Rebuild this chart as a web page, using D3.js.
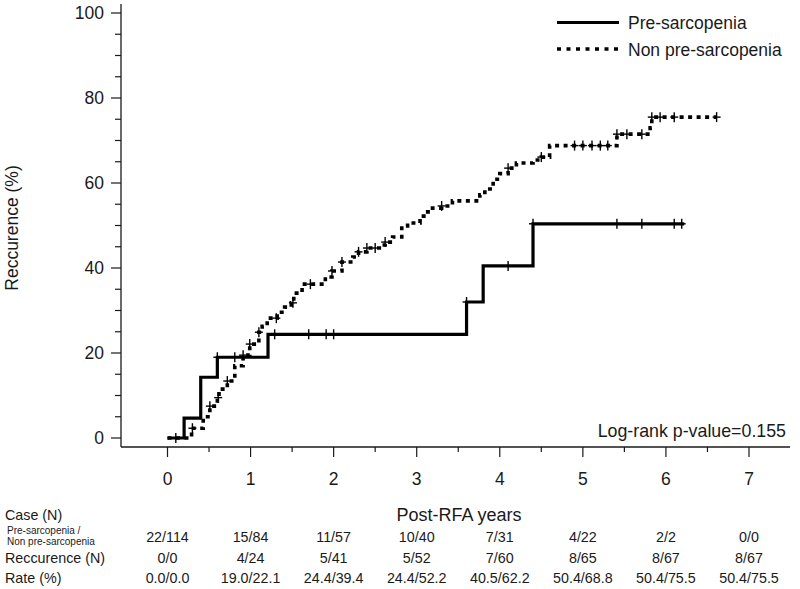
<!DOCTYPE html>
<html><head><meta charset="utf-8">
<script src="https://cdn.jsdelivr.net/npm/d3@7/dist/d3.min.js"></script>
<style>body{margin:0;background:#fff}svg{display:block;font-family:"Liberation Sans",Arial,sans-serif}</style>
</head><body><svg id="c" width="800" height="589"></svg>
<script>
// ---- data ----
const preTimes  = [0, 0.2, 0.4, 0.6, 1.21, 3.6, 3.8, 4.4];
const preValues = [0, 4.7, 14.3, 19.0, 24.4, 32.0, 40.5, 50.4];
const preEnd = 6.22;
const preCensor = [0.1, 0.6, 0.81, 1.29, 1.7, 1.91, 2.0, 3.6, 4.1, 4.4, 5.41, 5.71, 6.1, 6.19];

const nonTimes  = [0, 0.29, 0.43, 0.51, 0.60, 0.62, 0.72, 0.81, 0.91, 0.99, 1.10, 1.14, 1.20, 1.32, 1.41, 1.49, 1.52, 1.62, 1.90, 1.98, 2.10, 2.23, 2.30, 2.40, 2.55, 2.62, 2.71, 2.82, 2.89, 3.04, 3.11, 3.19, 3.30, 3.43, 3.76, 3.82, 3.92, 4.00, 4.10, 4.20, 4.40, 4.50, 4.60, 5.41, 5.81, 5.83];
const nonValues = [0, 2.3, 5.0, 7.5, 9.5, 11.5, 13.4, 17.0, 19.5, 22.1, 24.9, 26.3, 28.2, 29.6, 30.8, 31.8, 34.1, 36.2, 37.9, 39.3, 41.4, 42.6, 43.8, 44.7, 45.4, 46.1, 47.3, 49.9, 50.6, 52.2, 53.2, 54.1, 54.6, 55.8, 57.2, 58.6, 60.9, 62.2, 63.5, 64.7, 65.4, 66.1, 68.8, 71.5, 73.0, 75.5];
const nonEnd = 6.61;
const nonCensor = [0.30, 0.51, 0.61, 0.72, 0.91, 0.99, 1.10, 1.31, 1.51, 1.72, 1.98, 2.10, 2.30, 2.40, 2.50, 2.62, 3.30, 4.10, 4.50, 4.90, 5.0, 5.11, 5.21, 5.30, 5.41, 5.53, 5.71, 5.83, 5.93, 6.10, 6.61];

const seriesNames = ["Pre-sarcopenia", "Non pre-sarcopenia"];
const xTicks = [0, 1, 2, 3, 4, 5, 6, 7];
const yTicks = [0, 20, 40, 60, 80, 100];
const caseN = ["22/114","15/84","11/57","10/40","7/31","4/22","2/2","0/0"];
const recN  = ["0/0","4/24","5/41","5/52","7/60","8/65","8/67","8/67"];
const rateP = ["0.0/0.0","19.0/22.1","24.4/39.4","24.4/52.2","40.5/62.2","50.4/68.8","50.4/75.5","50.4/75.5"];

// ---- chart ----
const svg = d3.select("#c");
const x = d3.scaleLinear().domain([0, 7]).range([167.5, 749]);
const y = d3.scaleLinear().domain([0, 100]).range([438, 13]);
const axX0 = 121, axY0 = 447;
const ink = "#1a1a1a";

// axes lines
svg.append("line").attr("x1", axX0).attr("x2", axX0).attr("y1", 4).attr("y2", axY0).attr("stroke", ink).attr("stroke-width", 1.3);
svg.append("line").attr("x1", axX0).attr("x2", 790).attr("y1", axY0).attr("y2", axY0).attr("stroke", ink).attr("stroke-width", 1.3);

// y ticks
d3.range(0, 101, 5).forEach(v => {
  const major = v % 20 === 0;
  svg.append("line").attr("x1", axX0 - (major ? 10 : 6)).attr("x2", axX0)
    .attr("y1", y(v)).attr("y2", y(v)).attr("stroke", ink).attr("stroke-width", 1.2);
});
yTicks.forEach(v => {
  svg.append("text").attr("x", 104).attr("y", y(v) + 6).attr("text-anchor", "end")
    .attr("font-size", 17.5).attr("fill", ink).text(v);
});
// x ticks
d3.range(0, 7.01, 0.5).forEach(v => {
  const major = Math.abs(v - Math.round(v)) < 1e-6;
  svg.append("line").attr("x1", x(v)).attr("x2", x(v)).attr("y1", axY0)
    .attr("y2", axY0 + (major ? 10 : 5)).attr("stroke", ink).attr("stroke-width", 1.2);
});
xTicks.forEach(v => {
  svg.append("text").attr("x", x(v)).attr("y", 485).attr("text-anchor", "middle")
    .attr("font-size", 17.5).attr("fill", ink).text(v);
});

// axis titles
svg.append("text").attr("transform", "translate(18,228) rotate(-90)").attr("text-anchor", "middle")
  .attr("font-size", 17.5).attr("fill", ink).text("Reccurence (%)");
svg.append("text").attr("x", 459).attr("y", 521).attr("text-anchor", "middle")
  .attr("font-size", 18).attr("fill", ink).text("Post-RFA years");

// curves
function stepPts(times, vals, end) {
  const pts = times.map((t, i) => [t, vals[i]]);
  pts.push([end, vals[vals.length - 1]]);
  return pts;
}
function valAt(times, vals, t) {
  let v = vals[0];
  for (let i = 0; i < times.length; i++) if (times[i] <= t + 1e-9) v = vals[i];
  return v;
}
const line = d3.line().x(d => x(d[0])).y(d => y(d[1])).curve(d3.curveStepAfter);

svg.append("path").attr("d", line(stepPts(nonTimes, nonValues, nonEnd)))
  .attr("fill", "none").attr("stroke", "#000").attr("stroke-width", 3.6).attr("stroke-dasharray", "4,4.5");
svg.append("path").attr("d", line(stepPts(preTimes, preValues, preEnd)))
  .attr("fill", "none").attr("stroke", "#000").attr("stroke-width", 3.2);

function censor(times, vals, list) {
  list.forEach(t => {
    const cx = x(t), cy = y(valAt(times, vals, t));
    svg.append("line").attr("x1", cx - 4).attr("x2", cx + 4).attr("y1", cy).attr("y2", cy).attr("stroke", "#000").attr("stroke-width", 1.4);
    svg.append("line").attr("x1", cx).attr("x2", cx).attr("y1", cy - 5).attr("y2", cy + 5).attr("stroke", "#000").attr("stroke-width", 1.4);
  });
}
censor(nonTimes, nonValues, nonCensor);
censor(preTimes, preValues, preCensor);

// legend
svg.append("line").attr("x1", 557).attr("x2", 619).attr("y1", 22.5).attr("y2", 22.5).attr("stroke", "#000").attr("stroke-width", 3.2);
svg.append("text").attr("x", 628).attr("y", 29).attr("font-size", 17.5).attr("fill", ink).text(seriesNames[0]);
svg.append("line").attr("x1", 557).attr("x2", 619).attr("y1", 49).attr("y2", 49).attr("stroke", "#000").attr("stroke-width", 3.6).attr("stroke-dasharray", "4,5.5");
svg.append("text").attr("x", 628).attr("y", 55.5).attr("font-size", 17.5).attr("fill", ink).text(seriesNames[1]);

// p-value
svg.append("text").attr("x", 786).attr("y", 437).attr("text-anchor", "end")
  .attr("font-size", 17.8).attr("fill", ink).text("Log-rank p-value=0.155");

// table
svg.append("text").attr("x", 5).attr("y", 520).attr("font-size", 14.3).attr("fill", ink).text("Case (N)");
svg.append("text").attr("x", 7).attr("y", 534).attr("font-size", 10).attr("fill", ink).text("Pre-sarcopenia /");
svg.append("text").attr("x", 7).attr("y", 545).attr("font-size", 10).attr("fill", ink).text("Non pre-sarcopenia");
svg.append("text").attr("x", 5).attr("y", 563).attr("font-size", 14.3).attr("fill", ink).text("Reccurence (N)");
svg.append("text").attr("x", 5).attr("y", 583).attr("font-size", 14.3).attr("fill", ink).text("Rate (%)");
[[caseN, 542], [recN, 563], [rateP, 583]].forEach(([arr, yy]) => {
  arr.forEach((s, i) => {
    svg.append("text").attr("x", x(xTicks[i])).attr("y", yy).attr("text-anchor", "middle")
      .attr("font-size", 14.3).attr("fill", ink).text(s);
  });
});
</script></body></html>
